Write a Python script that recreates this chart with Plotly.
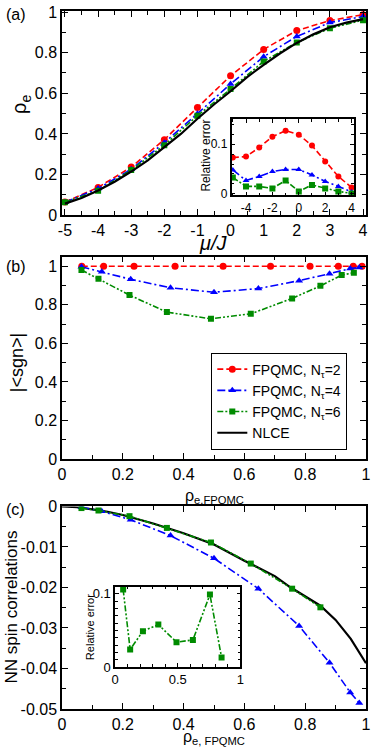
import plotly.graph_objects as go

# ---- data ----
MU = [-5, -4, -3, -2, -1, 0, 1, 2, 3, 4]
RHO_N2 = [0.065, 0.137, 0.237, 0.372, 0.530, 0.686, 0.816, 0.909, 0.958, 0.987]
RHO_N4 = [0.064, 0.131, 0.226, 0.357, 0.500, 0.646, 0.780, 0.880, 0.948, 0.978]
RHO_N6 = [0.064, 0.120, 0.222, 0.345, 0.490, 0.621, 0.757, 0.850, 0.920, 0.960]

MU_NLCE = [-5, -4.5, -4, -3.5, -3, -2.5, -2, -1.5, -1, -0.5, 0, 0.5, 1, 1.5, 2, 2.5, 3, 3.5, 4]
RHO_NLCE = [0.057, 0.085, 0.122, 0.165, 0.215, 0.270, 0.335, 0.400, 0.475, 0.545,
            0.610, 0.680, 0.740, 0.797, 0.848, 0.890, 0.925, 0.948, 0.965]

RELERR_N2 = [0.073, 0.075, 0.093, 0.115, 0.127, 0.119, 0.097, 0.065, 0.035, 0.013]
RELERR_N4 = [0.048, 0.027, 0.035, 0.045, 0.049, 0.049, 0.038, 0.025, 0.015, 0.004]
RELERR_N6 = [0.033, 0.015, 0.015, 0.011, 0.027, 0.005, 0.018, 0.011, 0.005, 0.001]

SGN_N2 = [1.0] * 10
SGN_N4 = [0.997, 0.971, 0.932, 0.888, 0.865, 0.884, 0.925, 0.961, 0.988, 0.993]
SGN_N6 = [0.980, 0.935, 0.850, 0.762, 0.727, 0.753, 0.833, 0.898, 0.954, 0.966]

NN_N4 = [-0.0002, -0.0012, -0.0033, -0.0072, -0.0128, -0.0203, -0.0295, -0.0386, -0.0459, -0.0485]
NN_N6 = [-0.0004, -0.0010, -0.0024, -0.0053, -0.0089, -0.0141, -0.0203, -0.0249]
NN_RELERR_N6 = [0.106, 0.024, 0.049, 0.058, 0.034, 0.037, 0.099, 0.013]

RHO_C_NLCE = [0, 0.05, 0.1, 0.15, 0.2, 0.3, 0.4, 0.5, 0.6, 0.65, 0.7, 0.75, 0.8, 0.85, 0.9, 0.95, 1.0]
NN_NLCE = [0, -0.0002, -0.0007, -0.0013, -0.0021, -0.0042, -0.0066, -0.0094, -0.0134,
           -0.0152, -0.0172, -0.0199, -0.0222, -0.0245, -0.028, -0.0327, -0.0387]

MU_TICKS = [-5, -4, -3, -2, -1, 0, 1, 2, 3, 4]
MU_TICKTEXT = ["-5", "-4", "-3", "-2", "-1", "0", "1", "2", "3", "4"]
UNIT_TICKS = [0, 0.2, 0.4, 0.6, 0.8, 1]
UNIT_TICKTEXT = ["0", "0.2", "0.4", "0.6", "0.8", "1"]
INSET_MU_TICKS = [-4, -2, 0, 2, 4]
INSET_MU_TICKTEXT = ["-4", "-2", "0", "2", "4"]
NN_TICKS = [0, -0.01, -0.02, -0.03, -0.04, -0.05]
NN_TICKTEXT = ["0", "-0.01", "-0.02", "-0.03", "-0.04", "-0.05"]

RED = "#ff0000"
BLUE = "#0000ff"
GREEN = "#008b00"
FONT = "Liberation Sans, Arial, sans-serif"

# pixel frame of the whole plotting region
L, R, T, B = 62, 3, 6, 40
W, H = 374, 749
PW, PH = W - L - R, H - T - B


def px_x(x):
    return (x - L) / PW


def px_y(y):
    return (H - B - y) / PH


fig = go.Figure()

STY = {
    2: dict(color=RED, dash="6px,3px", symbol="circle", size=7),
    4: dict(color=BLUE, dash="8px,3px,2px,3px", symbol="triangle-up", size=7),
    6: dict(color=GREEN, dash="6px,2px,2px,2px,2px,2px", symbol="square", size=6),
}


def add(x, y, n, xa, ya, legend=False, msize=None):
    s = STY[n]
    fig.add_trace(go.Scatter(
        x=x, y=y, xaxis=xa, yaxis=ya, mode="lines+markers",
        line=dict(color=s["color"], dash=s["dash"], width=1.6),
        marker=dict(symbol=s["symbol"], size=msize or s["size"], color=s["color"]),
        name=f"FPQMC, N<sub>τ</sub>={n}", showlegend=legend, legendrank=n,
    ))


# (a) main
for n, rho in ((2, RHO_N2), (4, RHO_N4), (6, RHO_N6)):
    add(MU, rho, n, "x", "y")
fig.add_trace(go.Scatter(x=MU_NLCE, y=RHO_NLCE, xaxis="x", yaxis="y", mode="lines",
                         line=dict(color="black", width=2.2), name="NLCE",
                         showlegend=True, legendrank=10))
# (a) inset
for n, err in ((2, RELERR_N2), (4, RELERR_N4), (6, RELERR_N6)):
    add(MU, err, n, "x2", "y2", msize=6)
# (b)
for n, rho, sgn in ((2, RHO_N2, SGN_N2), (4, RHO_N4, SGN_N4), (6, RHO_N6, SGN_N6)):
    add(rho, sgn, n, "x3", "y3", legend=True)
# (c)
fig.add_trace(go.Scatter(x=RHO_C_NLCE, y=NN_NLCE, xaxis="x4", yaxis="y4", mode="lines",
                         line=dict(color="black", width=2.2), showlegend=False))
add(RHO_N4, NN_N4, 4, "x4", "y4")
add(RHO_N6[:8], NN_N6, 6, "x4", "y4")
# (c) inset
add(RHO_N6[:8], NN_RELERR_N6, 6, "x5", "y5")


def ax(domain, rng, tickvals, ticktext, minor, anchor, size=16, ticklen=6):
    return dict(
        domain=domain, range=rng, anchor=anchor,
        tickmode="array", tickvals=tickvals, ticktext=ticktext,
        ticks="inside", ticklen=ticklen, tickwidth=1.2, tickcolor="black",
        minor=dict(tickmode="linear", tick0=0, dtick=minor, ticks="inside",
                   ticklen=ticklen // 2 + 1, tickwidth=1, tickcolor="black"),
        showline=True, linecolor="black", linewidth=1.5, mirror="allticks",
        showgrid=False, zeroline=False, ticklabeloverflow="allow",
        tickfont=dict(size=size, color="black", family=FONT),
    )


fig.update_layout(
    width=W, height=H, margin=dict(l=L, r=R, t=T, b=B),
    paper_bgcolor="white", plot_bgcolor="white",
    font=dict(family=FONT, color="black"),
    xaxis=ax([0, 1], [-5.09, 4.09], MU_TICKS, MU_TICKTEXT, 0.5, "y"),
    yaxis=ax([px_y(211.7), 1], [0, 1.005], UNIT_TICKS, UNIT_TICKTEXT, 0.1, "x"),
    xaxis2=ax([px_x(234.3), px_x(359)], [-5.1, 4.2], INSET_MU_TICKS, INSET_MU_TICKTEXT,
              1, "y2", size=12, ticklen=4),
    yaxis2=ax([px_y(191.7), px_y(115)], [-0.003, 0.15], [0, 0.1], ["0", "0.1"],
              0.02, "x2", size=12, ticklen=4),
    xaxis3=ax([0, 1], [0, 1], UNIT_TICKS, UNIT_TICKTEXT, 0.1, "y3"),
    yaxis3=ax([px_y(457.3), px_y(253.3)], [0, 1.05], UNIT_TICKS, UNIT_TICKTEXT, 0.1, "x3"),
    xaxis4=ax([0, 1], [0, 1], UNIT_TICKS, UNIT_TICKTEXT, 0.1, "y4"),
    yaxis4=ax([0, px_y(505)], [-0.05, 0], NN_TICKS, NN_TICKTEXT, 0.005, "x4"),
    xaxis5=ax([px_x(116), px_x(243.3)], [0, 1], [0, 0.5, 1], ["0", "0.5", "1"],
              0.1, "y5", size=13, ticklen=4),
    yaxis5=ax([px_y(666.7), px_y(585.7)], [0, 0.11], [0, 0.1], ["0", "0.1"],
              0.01, "x5", size=13, ticklen=4),
    legend=dict(x=px_x(352), y=px_y(350), xanchor="right", yanchor="top",
                bgcolor="white", bordercolor="black", borderwidth=1,
                font=dict(size=14, family=FONT, color="black"),
                tracegroupgap=0, itemwidth=30),
)

ANN = [
    ("(a)", 3, 10, 16, 0, "left"),
    ("(b)", 3, 263, 16, 0, "left"),
    ("(c)", 3, 508, 16, 0, "left"),
    ("ρ<sub>e</sub>", 20, 100, 20, -90, "center"),
    ("|&lt;sgn&gt;|", 17, 360, 18, -90, "center"),
    ("NN spin correlations", 11, 606, 17, -90, "center"),
    ("Relative error", 208, 152, 12, -90, "center"),
    ("Relative error", 90, 627, 11, -90, "center"),
    ("<i>μ/J</i>", 216, 240, 20, 0, "center"),
    ("ρ<sub>e,FPQMC</sub>", 217, 495, 16, 0, "center"),
    ("ρ<sub>e, FPQMC</sub>", 217, 738, 16, 0, "center"),
]
for text, x, y, size, ang, xa in ANN:
    fig.add_annotation(text=text, x=px_x(x), y=px_y(y), xref="paper", yref="paper",
                       xanchor=xa, yanchor="middle", showarrow=False, textangle=ang,
                       font=dict(size=size, family=FONT, color="black"))

# page body has a default 8px margin; drop it so the figure sits at the window origin
fig.write_html("out.html", config={"displayModeBar": False},
               post_script="document.body.style.margin='0';")
